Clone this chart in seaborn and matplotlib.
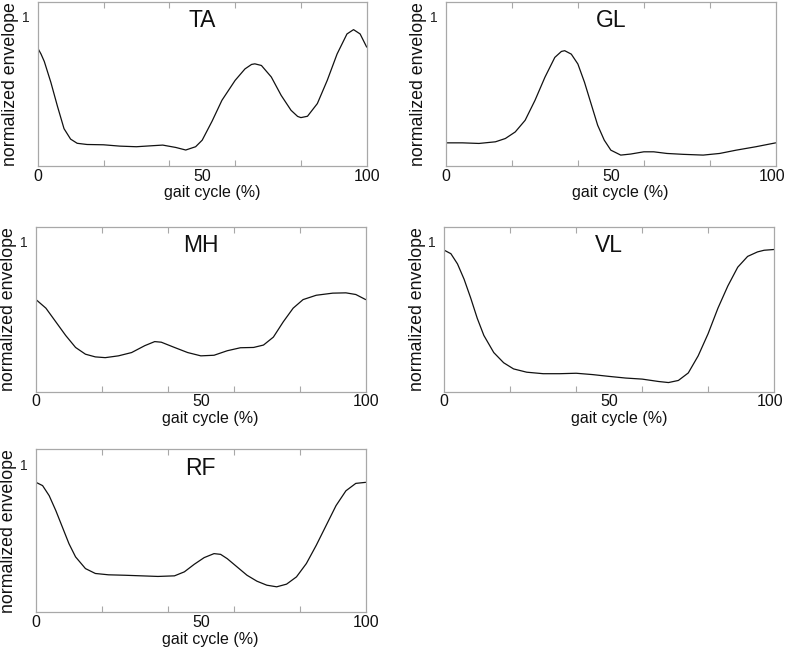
import numpy as np
import pandas as pd
import matplotlib
matplotlib.use("Agg")
import matplotlib.pyplot as plt
import matplotlib.transforms as mtransforms
import seaborn as sns

# values (gait cycle %, normalized envelope)
ta_x = [0, 1, 2, 4, 6, 8, 10, 12, 15, 20, 25, 30, 35, 38, 42, 45, 48, 50, 53, 56, 60,
        63, 65, 66, 68, 71, 74, 77, 79, 80, 82, 85, 88, 91, 94, 96, 98, 100]
ta_y = [0.79, 0.75, 0.70, 0.56, 0.40, 0.25, 0.18, 0.152, 0.144, 0.142, 0.133, 0.129, 0.136,
        0.14, 0.124, 0.107, 0.129, 0.173, 0.30, 0.44, 0.573, 0.65, 0.68, 0.684, 0.673, 0.596,
        0.473, 0.373, 0.332, 0.324, 0.333, 0.418, 0.573, 0.75, 0.884, 0.913, 0.884, 0.796]

gl_x = [0, 5, 10, 15, 18, 21, 24, 27, 30, 33, 35, 36, 38, 40, 42, 44, 46, 48, 50, 53,
        56, 60, 63, 67, 72, 78, 83, 88, 94, 100]
gl_y = [0.155, 0.155, 0.151, 0.162, 0.184, 0.228, 0.306, 0.44, 0.594, 0.727, 0.767, 0.772,
        0.749, 0.683, 0.561, 0.417, 0.273, 0.173, 0.106, 0.073, 0.08, 0.095, 0.095, 0.084,
        0.078, 0.073, 0.084, 0.106, 0.129, 0.155]

mh_x = [0, 3, 6, 9, 12, 15, 18, 21, 25, 29, 33, 36, 38, 42, 46, 50, 54, 58, 62, 66,
        69, 72, 75, 78, 81, 85, 90, 94, 97, 100]
mh_y = [0.614, 0.557, 0.466, 0.375, 0.295, 0.25, 0.232, 0.227, 0.239, 0.261, 0.307, 0.334,
        0.33, 0.295, 0.261, 0.239, 0.243, 0.273, 0.293, 0.295, 0.311, 0.364, 0.466, 0.557,
        0.614, 0.643, 0.657, 0.659, 0.648, 0.614]

vl_x = [0, 2, 4, 6, 8, 10, 12, 15, 18, 21, 25, 30, 35, 40, 45, 50, 55, 60, 65, 68,
        71, 74, 77, 80, 83, 86, 89, 92, 95, 97, 100]
vl_y = [0.943, 0.92, 0.852, 0.75, 0.625, 0.489, 0.375, 0.261, 0.193, 0.152, 0.13, 0.12,
        0.12, 0.123, 0.114, 0.102, 0.091, 0.084, 0.068, 0.061, 0.075, 0.125, 0.239, 0.386,
        0.557, 0.705, 0.83, 0.902, 0.932, 0.943, 0.948]

rf_x = [0, 2, 4, 6, 8, 10, 12, 15, 18, 22, 27, 32, 37, 42, 45, 48, 51, 54, 56, 58,
        61, 64, 67, 70, 73, 76, 79, 82, 85, 88, 91, 94, 97, 100]
rf_y = [0.877, 0.855, 0.787, 0.687, 0.575, 0.463, 0.374, 0.295, 0.262, 0.253, 0.25, 0.246,
        0.242, 0.246, 0.273, 0.324, 0.369, 0.396, 0.391, 0.362, 0.306, 0.25, 0.21, 0.183,
        0.172, 0.19, 0.239, 0.329, 0.452, 0.586, 0.72, 0.82, 0.87, 0.877]

muscles = ["TA", "GL", "MH", "VL", "RF"]
series = [(ta_x, ta_y), (gl_x, gl_y), (mh_x, mh_y), (vl_x, vl_y), (rf_x, rf_y)]

sns.set_style("white")
plt.rcParams['font.family'] = ['Liberation Sans', 'DejaVu Sans']

W, H = 786, 648
fig = plt.figure(figsize=(W / 100, H / 100), dpi=100)

# axes boxes in pixels: left, top, right, bottom
boxes = [(37.7, 1.7, 366.7, 166), (446, 1.7, 775.7, 166),
         (36, 226.7, 365.7, 391.7), (444.3, 226.7, 774, 391.7),
         (36, 449.3, 365.7, 612.3)]

spine_col = "#a8a8a8"
for name, (xs, ys), (l, t, r, b) in zip(muscles, series, boxes):
    ax = fig.add_axes([l / W, (H - b) / H, (r - l) / W, (b - t) / H])
    df = pd.DataFrame({"x": xs, "y": ys})
    sns.lineplot(data=df, x="x", y="y", ax=ax, color="#111111", linewidth=0.9)
    ax.set_xlim(0, 100)
    ax.set_ylim(0, 1.1)
    ax.set_xticks([0, 50, 100])
    ax.set_xticklabels(["0", "50", "100"], fontsize=11.5, color="#111111")
    ax.set_xticks([20, 40, 60, 80], minor=True)
    ax.set_yticks([1])
    ax.set_yticklabels(["1"], fontsize=10, color="#222222")
    ax.tick_params(axis="x", which="major", length=0, pad=2)
    ax.tick_params(axis="x", which="minor", direction="in", length=4, color=spine_col,
                   top=True, bottom=True, width=0.8)
    ax.tick_params(axis="y", direction="in", length=4, color=spine_col, pad=6, width=0.8)
    for s in ax.spines.values():
        s.set_color(spine_col)
        s.set_linewidth(0.9)
    if r > 700:
        # keep the right-most "100" inside the figure
        lab = ax.get_xticklabels()[-1]
        lab.set_transform(lab.get_transform() +
                          mtransforms.ScaledTranslation(-4 / 100, 0, fig.dpi_scale_trans))
    ax.set_xlabel("gait cycle (%)", fontsize=11.5, color="#111111")
    ax.xaxis.set_label_coords(0.53, -0.118)
    ax.xaxis.label.set_va("top")
    ax.set_ylabel("normalized envelope", fontsize=12.8, color="#111111", labelpad=2)
    ax.text(0.5, 0.885, name, transform=ax.transAxes, ha="center", va="center",
            fontsize=16.5, color="#111111")

fig.savefig("out.png", dpi=100)
